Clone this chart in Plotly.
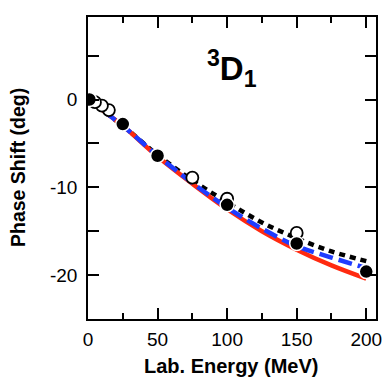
import plotly.graph_objects as go

# Model curves (lab energy in MeV, phase shift in deg)
curve_energy = [0, 25, 50, 75, 100, 125, 150, 175, 200]
red_solid = [0.0, -3.0, -6.5, -9.6, -12.5, -15.0, -17.1, -18.9, -20.4]
blue_dashed = [0.0, -3.0, -6.4, -9.5, -12.3, -14.7, -16.7, -18.0, -19.2]
black_dotted = [0.0, -3.0, -6.3, -9.2, -11.7, -14.0, -15.8, -17.3, -18.4]

# Data points
filled_energy = [1, 25, 50, 100, 150, 200]
filled_shift = [0.0, -2.8, -6.4, -12.0, -16.4, -19.6]
open_energy = [15, 10, 5, 75, 100, 150]
open_shift = [-1.2, -0.7, -0.3, -8.9, -11.3, -15.2]

x_tick_vals = [0, 50, 100, 150, 200]
x_tick_text = ["0", "50", "100", "150", "200"]
y_tick_vals = [-20, -10, 0]
y_tick_text = ["-20", "-10", "0"]

FONT = "Liberation Sans, Arial, sans-serif"

fig = go.Figure()
fig.add_trace(go.Scatter(x=curve_energy, y=black_dotted, mode="lines",
                         line=dict(color="black", width=4.5, dash="6px,5px", shape="spline"),
                         showlegend=False))
fig.add_trace(go.Scatter(x=curve_energy, y=red_solid, mode="lines",
                         line=dict(color="#ff2a10", width=4.5, shape="spline"),
                         showlegend=False))
fig.add_trace(go.Scatter(x=curve_energy, y=blue_dashed, mode="lines",
                         line=dict(color="#1f3cff", width=4.5, dash="14px,6px", shape="spline"),
                         showlegend=False))
fig.add_trace(go.Scatter(x=open_energy, y=open_shift, mode="markers",
                         marker=dict(size=12, color="white", line=dict(color="black", width=1.8)),
                         showlegend=False))
fig.add_trace(go.Scatter(x=filled_energy, y=filled_shift, mode="markers",
                         marker=dict(size=14, color="black", line=dict(color="white", width=1.5)),
                         showlegend=False))

axis_common = dict(
    showline=True, linecolor="black", linewidth=1.5, mirror="ticks",
    ticks="inside", tickcolor="black", tickwidth=1.5,
    showgrid=False, zeroline=False, automargin=False,
    tickfont=dict(family=FONT, size=19, color="black"),
)

fig.update_xaxes(range=[0, 207], tickvals=x_tick_vals, ticktext=x_tick_text, ticklen=11,
                 ticklabelstandoff=2,
                 minor=dict(dtick=25, tick0=0, ticks="inside", ticklen=6, tickcolor="black", tickwidth=1.5),
                 **axis_common)
fig.update_yaxes(range=[-25, 9.4], tickvals=y_tick_vals, ticktext=y_tick_text, ticklen=11,
                 ticklabelstandoff=5,
                 minor=dict(dtick=5, tick0=0, ticks="inside", ticklen=11, tickcolor="black", tickwidth=1.5),
                 **axis_common)

# Axis titles
fig.add_annotation(text="<b>Lab. Energy (MeV)</b>", xref="paper", yref="paper",
                   x=0.498, y=-0.156, showarrow=False, xanchor="center", yanchor="middle",
                   font=dict(family=FONT, size=20, color="black"))
fig.add_annotation(text="<b>Phase Shift (deg)</b>", xref="paper", yref="paper",
                   x=-0.243, y=0.5, showarrow=False, xanchor="center", yanchor="middle",
                   textangle=-90, font=dict(family=FONT, size=19.5, color="black"))

# Panel label
fig.add_annotation(text="<b><sup>3</sup>D<sub>1</sub></b>", xref="paper", yref="paper",
                   x=0.50, y=0.83, showarrow=False, xanchor="center", yanchor="middle",
                   font=dict(family=FONT, size=33, color="black"))

fig.update_layout(width=383, height=378, margin=dict(l=88, r=7, t=17, b=59),
                  plot_bgcolor="white", paper_bgcolor="white")

fig.write_html("out.html", config={"displayModeBar": False},
               post_script="document.body.style.margin='0px';")
